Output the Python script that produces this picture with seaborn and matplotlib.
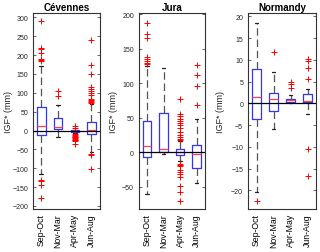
import matplotlib
matplotlib.use('Agg')
import matplotlib.pyplot as plt
import numpy as np
import pandas as pd
import seaborn as sns

seasons = ['Sep-Oct', 'Nov-Mar', 'Apr-May', 'Jun-Aug']
regions = ['Cévennes', 'Jura', 'Normandy']

# box stats per season: lower whisker, q1, median, q3, upper whisker
cev_stats = [[-115, -12, 13, 62, 170],
             [-18, 5, 10, 33, 68],
             [-6, -3, 0, 2, 7],
             [-58, -10, 2, 23, 70]]
jura_stats = [[-60, -7, 9, 46, 125],
              [-3, 0, 5, 57, 122],
              [-12, -4, 0, 5, 17],
              [-45, -22, -2, 10, 48]]
norm_stats = [[-20.3, -3.5, 1.5, 8.0, 18.5],
              [-5.8, -1.8, 1.0, 2.3, 7.3],
              [0.0, 0.3, 0.8, 1.1, 2.0],
              [-2.5, 0.2, 0.6, 2.1, 3.2]]

# outliers per season
cev_out = [[290, 220, 215, 205, 190, 187, 185, -130, -135, -145, -180],
           [105, 92],
           [12, 8, -10, -12, -14, -16, -18, -20, -22, -24, -26, -28, -35],
           [240, 175, 150, 115, 110, 105, 100, 95, 85, 80, 78, 75, 72, -62, -65, -102]]
jura_out = [[188, 172, 165, 138, 135, 132, 130, 128],
            [],
            [78, 55, 52, 48, 45, 43, 40, 35, 30, 25, 22, 20, 18,
             -17, -18, -20, -25, -28, -32, -35, -48, -58, -70],
            [126, 112, 96, 68]]
norm_out = [[-22.5],
            [11.8],
            [4.8, 4.5, 3.5],
            [10.2, 9.8, 8.2, 5.5, -10.5, -16.7]]

ylims = [(-208, 312), (-82, 202), (-24.3, 20.8)]
yticks = [np.arange(-200, 301, 50), np.arange(-50, 201, 50), np.arange(-20, 21, 5)]
stats_all = [cev_stats, jura_stats, norm_stats]
out_all = [cev_out, jura_out, norm_out]

sns.set_style('white')
plt.rcParams['font.family'] = ['Liberation Sans', 'DejaVu Sans']
fig = plt.figure(figsize=(3.2, 2.53), dpi=100)
lefts = [0.103, 0.434, 0.775]
widths = [0.209, 0.206, 0.2125]
label_x = [-0.30, -0.32, -0.34]
dark = '#262626'

for k in range(3):
    ax = fig.add_axes([lefts[k], 0.170, widths[k], 0.775])
    box_df = pd.DataFrame({'season': np.repeat(seasons, 5),
                           'value': np.concatenate(stats_all[k])})
    out_df = pd.DataFrame({'season': [s for s, o in zip(seasons, out_all[k]) for _ in o],
                           'value': [v for o in out_all[k] for v in o]})
    sns.boxplot(data=box_df, x='season', y='value', order=seasons, whis=np.inf,
                width=0.5, fill=False, linewidth=0.9, ax=ax,
                boxprops=dict(color='#3333ff', linewidth=0.9),
                medianprops=dict(color='#ff4444', linewidth=0.9),
                whiskerprops=dict(color='#555555', linestyle=(0, (6, 3)), linewidth=0.9),
                capprops=dict(color='#202020', linewidth=0.9),
                capwidths=0.22)
    sns.stripplot(data=out_df, x='season', y='value', order=seasons, jitter=False,
                  marker='+', color='red', size=5, linewidth=0.7, ax=ax)
    ax.axhline(0, color='black', linewidth=0.9, zorder=3)
    ax.set_xlim(-0.5, 3.5)
    ax.set_ylim(*ylims[k])
    ax.set_yticks(yticks[k])
    ax.set_xlabel('')
    ax.set_ylabel('IGF* (mm)', fontsize=6.5, color=dark)
    ax.yaxis.set_label_coords(label_x[k], 0.5)
    ax.set_title(regions[k], fontsize=7, fontweight='bold', pad=2, color='black')
    ax.tick_params(axis='y', labelsize=5, colors=dark, direction='in', length=2,
                   right=True, left=True, pad=3.5, width=0.5)
    ax.tick_params(axis='x', labelsize=6.3, colors='black', labelrotation=90, length=0, pad=3)
    for sp in ax.spines.values():
        sp.set_color('#333333')
        sp.set_linewidth(0.8)

fig.savefig('out.png', dpi=100)
